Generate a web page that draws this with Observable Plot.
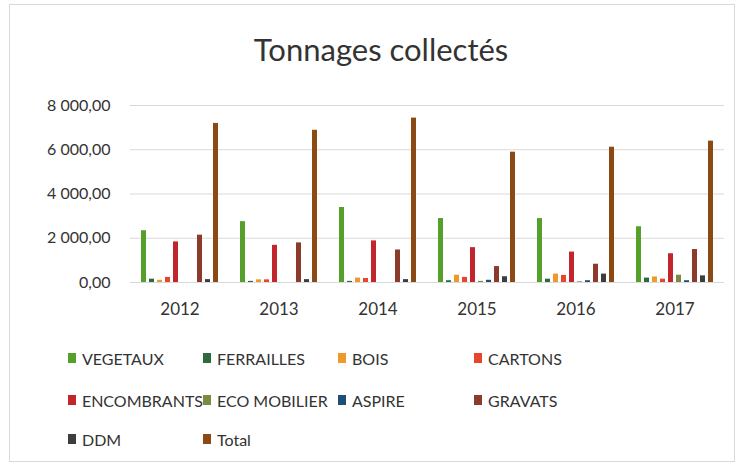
<!DOCTYPE html>
<html>
<head>
<meta charset="utf-8">
<script src="https://cdn.jsdelivr.net/npm/d3@7"></script>
<script src="https://cdn.jsdelivr.net/npm/@observablehq/plot@0.6"></script>
<style>
  html, body { margin: 0; padding: 0; background: #fff; }
  #frame { position: relative; width: 738px; height: 466px; overflow: hidden; font-family: Lato, "Open Sans", sans-serif; color: #333; }
  #border { position: absolute; left: 9px; top: 4px; width: 726px; height: 458px; border: 1px solid #d9d9d9; box-sizing: border-box; }
  #title { position: absolute; left: 0; width: 762px; top: 30px; text-align: center; font-size: 31px; color: #333; }
  #chart { position: absolute; left: 0; top: 80px; }
  #legend { position: absolute; left: 68px; top: 336px; display: grid; grid-template-columns: 135px 135px 136px 200px; grid-template-rows: 44px 40px 38px; font-size: 16px; }
  .item { display: flex; align-items: center; white-space: nowrap; }
  .sw { width: 8px; height: 10px; margin-right: 6px; display: inline-block; }
</style>
</head>
<body>
<div id="frame">
  <div id="border"></div>
  <div id="title">Tonnages collectés</div>
  <div id="chart"></div>
  <div id="legend"></div>
</div>
<script>
const years = ["2012", "2013", "2014", "2015", "2016", "2017"];
const series = ["VEGETAUX", "FERRAILLES", "BOIS", "CARTONS", "ENCOMBRANTS", "ECO MOBILIER", "ASPIRE", "GRAVATS", "DDM", "Total"];
const colors = ["#55a02b", "#2d6a3e", "#ee9a2a", "#e8452d", "#c0262c", "#7b8a3e", "#1f4e79", "#8b3a2b", "#3d3d3d", "#8b4a14"];

const vegetaux    = [2340, 2750, 3390, 2890, 2890, 2520];
const ferrailles  = [150, 50, 50, 80, 150, 200];
const bois        = [100, 120, 200, 330, 380, 250];
const cartons     = [230, 120, 180, 230, 320, 150];
const encombrants = [1835, 1680, 1880, 1575, 1375, 1300];
const ecoMobilier = [0, 0, 0, 50, 30, 330];
const aspire      = [0, 0, 0, 100, 80, 80];
const gravats     = [2140, 1790, 1470, 720, 825, 1490];
const ddm         = [130, 130, 130, 260, 380, 300];
const total       = [7190, 6880, 7430, 5890, 6115, 6390];

const yTicks = [0, 2000, 4000, 6000, 8000];

const valuesBySeries = [vegetaux, ferrailles, bois, cartons, encombrants, ecoMobilier, aspire, gravats, ddm, total];
const data = [];
years.forEach((y, i) => {
  series.forEach((s, j) => {
    data.push({year: y, series: s, value: valuesBySeries[j][i]});
  });
});

const fr = d3.formatLocale({decimal: ",", thousands: "\u00a0", grouping: [3], currency: ["", " €"]});
const fmt = fr.format(",.2f");

const chart = Plot.plot({
  width: 738,
  height: 245,
  marginLeft: 128,
  marginRight: 13,
  marginTop: 25,
  marginBottom: 43,
  style: {fontFamily: "Lato, 'Open Sans', sans-serif", color: "#333", background: "transparent"},
  fx: {domain: years, padding: 0, label: null},
  x: {domain: series, paddingOuter: 1, paddingInner: 0.35, axis: null},
  y: {domain: [0, 8000], ticks: yTicks, label: null},
  color: {domain: series, range: colors},
  marks: [
    Plot.gridY(yTicks, {stroke: "#d9d9d9", strokeOpacity: 1, strokeWidth: 1}),
    Plot.ruleY([0], {stroke: "#d9d9d9"}),
    Plot.barY(data, {fx: "year", x: "series", y: "value", fill: "series"}),
    Plot.axisY(yTicks, {tickSize: 0, tickPadding: 20, tickFormat: fmt, fontSize: 16, label: null}),
    Plot.axisFx({anchor: "bottom", tickSize: 0, tickPadding: 20, fontSize: 17, label: null})
  ]
});
document.getElementById("chart").appendChild(chart);

const legend = document.getElementById("legend");
series.forEach((s, j) => {
  const it = document.createElement("div");
  it.className = "item";
  const sw = document.createElement("span");
  sw.className = "sw";
  sw.style.background = colors[j];
  it.appendChild(sw);
  it.appendChild(document.createTextNode(s));
  legend.appendChild(it);
});
</script>
</body>
</html>
